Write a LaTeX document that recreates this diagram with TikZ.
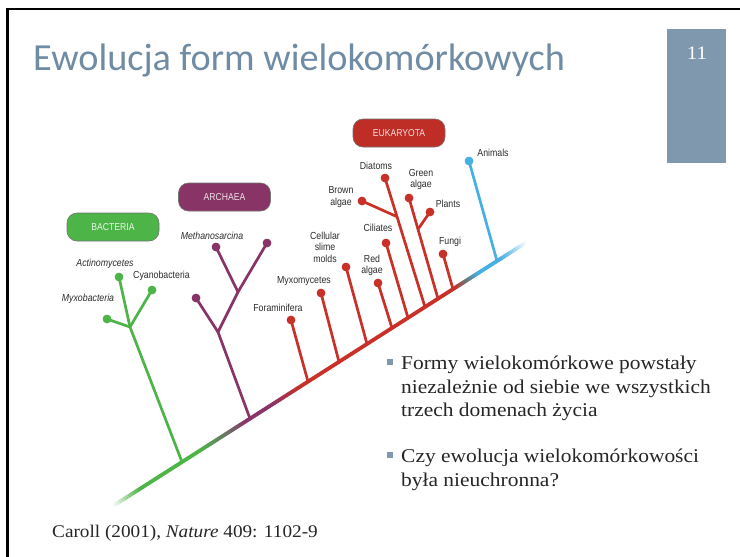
\documentclass[tikz,border=0pt]{standalone}
\usepackage{fontspec}
\usetikzlibrary{calc}
\setmainfont{Liberation Serif}
\newfontfamily\titlefont{Carlito}
\newfontfamily\lblfont[FakeStretch=0.86]{Liberation Sans}
\newfontfamily\bodyfont[FakeStretch=1.1]{Liberation Serif}
\newfontfamily\citefont[FakeStretch=1.08]{Liberation Serif}
\definecolor{tgreen}{RGB}{77,181,72}
\definecolor{tpurple}{RGB}{137,52,102}
\definecolor{tred}{RGB}{200,48,40}
\definecolor{tblue}{RGB}{70,175,228}
\definecolor{tgray}{RGB}{110,110,105}
\definecolor{titlecol}{RGB}{112,140,165}
\definecolor{boxcol}{RGB}{127,152,173}
\definecolor{txtcol}{RGB}{38,38,38}
\definecolor{lblcol}{RGB}{45,45,45}
\tikzset{
  trunk/.style={line width=3.8pt, line cap=butt},
  branch/.style={line width=2.7pt, line cap=round},
  dotnode/.style={circle, inner sep=0pt, minimum size=8.5pt, draw=none},
  lbl/.style={font=\lblfont\fontsize{10.2}{11.5}\selectfont, text=lblcol, inner sep=0pt, align=center},
  ilbl/.style={lbl, font=\lblfont\itshape\fontsize{10.2}{11.5}\selectfont},
  domainbox/.style={rounded corners=10pt, draw=black!55, line width=0.6pt, minimum width=92pt, minimum height=28pt,
     font=\lblfont\fontsize{10}{11}\selectfont, inner sep=0pt},
  bodytxt/.style={font=\bodyfont\fontsize{19.5}{23}\selectfont, text=txtcol, anchor=base west, inner sep=0pt},
  bsq/.style={rectangle, fill=boxcol, minimum size=6.5pt, inner sep=0pt},
}
\begin{document}
\begin{tikzpicture}[x=1pt, y=-1pt, declare function={ty(\x)=462-0.638*(\x-182);}]
\useasboundingbox (0,0) rectangle (740,557);
\fill[white] (0,0) rectangle (740,557);
% frame
\draw[line width=2.8pt, black] (740,9) -- (7.5,9) -- (7.5,557);
% title
\node[font=\titlefont\fontsize{38.3}{40}\selectfont, text=titlecol, anchor=base west, inner sep=0pt] (title) at (33,70) {Ewolucja form wielokomórkowych};
% number box
\fill[boxcol] (667,29) rectangle (726,163);
\node[font=\bodyfont\fontsize{19}{20}\selectfont, text=white, anchor=base, inner sep=0pt] (num) at (697,59) {11};

% trunk with colour transitions
\foreach \xa/\xb/\ca/\cb/\oa/\ob in {113/140/tgreen/tgreen/0/1, 140/200/tgreen/tgreen/1/1, 200/228/tgreen/tgray/1/1, 228/245/tgray/tpurple/1/1, 245/272/tpurple/tpurple/1/1, 272/300/tpurple/tred/1/1, 300/455/tred/tred/1/1, 455/465/tred/tgray/1/1, 465/478/tgray/tblue/1/1, 478/500/tblue/tblue/1/1, 500/526/tblue/tblue/1/0}{
  \foreach \k in {0,...,11}{
    \pgfmathsetmacro\xs{\xa+(\xb-\xa)*\k/12}
    \pgfmathsetmacro\xe{\xa+(\xb-\xa)*(\k+1)/12+0.3}
    \pgfmathtruncatemacro\m{100*(\k+0.5)/12}
    \pgfmathsetmacro\op{\oa+(\ob-\oa)*(\k+0.5)/12}
    \draw[trunk, draw=\cb!\m!\ca, draw opacity=\op] ({\xs},{ty(\xs)}) -- ({\xe},{ty(\xe)});
  }
}

% junctions on the trunk
\foreach \n/\x in {jg/182, jp/250, jfor/308, jmyx/339, jcel/367, jred/392, jcil/408, jdia/425, jgre/438, jfun/453, jani/497}{
  \coordinate (\n) at (\x,{ty(\x)});
}

% domain boxes
\node[domainbox, fill=tgreen, text=white!88!tgreen] (bact) at (113,227) {BACTERIA};
\node[domainbox, fill=tpurple, text=white!85!tpurple] (arch) at (224.5,197) {ARCHAEA};
\node[domainbox, fill=tred!95!black, text=white!85!tred] (euk) at (399,133) {EUKARYOTA};

% dots
\node[dotnode, fill=tgreen] (myxob) at (107,319) {};
\node[dotnode, fill=tgreen] (actin) at (119,277) {};
\node[dotnode, fill=tgreen] (cyano) at (152,290) {};
\node[dotnode, fill=tpurple] (pleft) at (196,298) {};
\node[dotnode, fill=tpurple] (meth) at (216,247) {};
\node[dotnode, fill=tpurple] (pright) at (267,243) {};
\node[dotnode, fill=tred] (foram) at (291,320) {};
\node[dotnode, fill=tred] (myxom) at (321,293) {};
\node[dotnode, fill=tred] (cell) at (346,267) {};
\node[dotnode, fill=tred] (reda) at (378,283) {};
\node[dotnode, fill=tred] (cil) at (386,243) {};
\node[dotnode, fill=tred] (diat) at (385,178) {};
\node[dotnode, fill=tred] (brown) at (362,201) {};
\node[dotnode, fill=tred] (greena) at (409,198) {};
\node[dotnode, fill=tred] (plants) at (430,212) {};
\node[dotnode, fill=tred] (fungi) at (443,254) {};
\node[dotnode, fill=tblue] (anim) at (469,161) {};

% inner junctions
\coordinate (gj) at (130,327);
\coordinate (pj1) at (218,332);
\coordinate (pj2) at (238,292);
\coordinate (bj) at ($(jdia)!0.70!(diat.center)$);
\coordinate (plj) at ($(jgre)!0.69!(greena.center)$);

% bacteria branches
\begin{scope}[branch, draw=tgreen]
  \draw (jg) -- (gj);
  \draw (gj) -- (myxob.center);
  \draw (gj) -- (actin.center);
  \draw (gj) -- (cyano.center);
\end{scope}
% archaea branches
\begin{scope}[branch, draw=tpurple]
  \draw (jp) -- (pj1);
  \draw (pj1) -- (pleft.center);
  \draw (pj1) -- (pj2);
  \draw (pj2) -- (meth.center);
  \draw (pj2) -- (pright.center);
\end{scope}
% eukaryote branches
\begin{scope}[branch, draw=tred]
  \draw (jfor) -- (foram.center);
  \draw (jmyx) -- (myxom.center);
  \draw (jcel) -- (cell.center);
  \draw (jred) -- (reda.center);
  \draw (jcil) -- (cil.center);
  \draw (jdia) -- (diat.center);
  \draw (bj) -- (brown.center);
  \draw (jgre) -- (greena.center);
  \draw (plj) -- (plants.center);
  \draw (jfun) -- (fungi.center);
\end{scope}
\draw[branch, draw=tblue] (jani) -- (anim.center);

% redraw dots on top
\foreach \d/\c in {myxob/tgreen, actin/tgreen, cyano/tgreen, pleft/tpurple, meth/tpurple, pright/tpurple, foram/tred, myxom/tred, cell/tred, reda/tred, cil/tred, diat/tred, brown/tred, greena/tred, plants/tred, fungi/tred, anim/tblue}{
  \fill[\c] (\d.center) circle (4.25pt);
}

% labels
\node[ilbl] (lactin) at (105,264) {Actinomycetes};
\node[lbl] (lcyano) at (161.5,276) {Cyanobacteria};
\node[ilbl] (lmyxob) at (88,299) {Myxobacteria};
\node[ilbl] (lmeth) at (212,236) {Methanosarcina};
\node[lbl] (lforam) at (278,308) {Foraminifera};
\node[lbl] (lmyxom) at (304,281) {Myxomycetes};
\node[lbl] (lcell) at (325,247) {Cellular\\slime\\molds};
\node[lbl] (lreda) at (372,265.5) {Red\\algae};
\node[lbl] (lcil) at (378,228) {Ciliates};
\node[lbl] (ldiat) at (376,166) {Diatoms};
\node[lbl] (lbrown) at (341,197) {Brown\\algae};
\node[lbl] (lgreen) at (421,179.5) {Green\\algae};
\node[lbl] (lplants) at (448,204) {Plants};
\node[lbl] (lfungi) at (450,242) {Fungi};
\node[lbl] (lanim) at (493,153) {Animals};

% bullets
\node[bsq] (sq1) at (390,362) {};
\node[bsq] (sq2) at (390,455) {};
\node[bodytxt] (t11) at (401,369) {Formy wielokomórkowe powstały};
\node[bodytxt] (t12) at (401,393) {niezależnie od siebie we wszystkich};
\node[bodytxt] (t13) at (401,416) {trzech domenach życia};
\node[bodytxt] (t21) at (401,462) {Czy ewolucja wielokomórkowości};
\node[bodytxt] (t22) at (401,486) {była nieuchronna?};

% citation
\node[font=\citefont\fontsize{17.8}{20}\selectfont, text=txtcol, anchor=base west, inner sep=0pt] (cite) at (52,537) {Caroll (2001), \textit{Nature} 409: 1102-9};
\end{tikzpicture}
\end{document}
